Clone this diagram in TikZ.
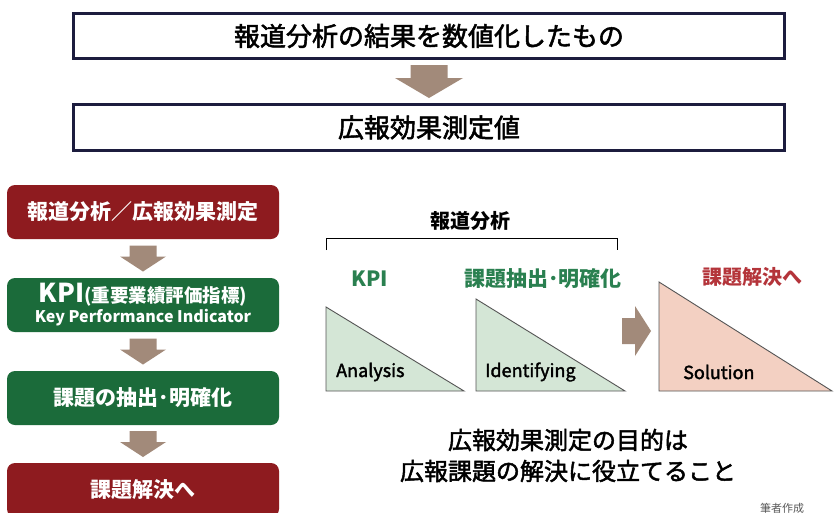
\documentclass[tikz,border=0pt]{standalone}
\usepackage{fontspec}
\setmainfont{Noto Sans CJK JP}
\newfontfamily\jpsemi[FakeBold=2]{Noto Sans CJK JP}
\usetikzlibrary{calc}
\definecolor{navyb}{HTML}{1C1C3E}
\definecolor{boxred}{HTML}{8E1B1F}
\definecolor{boxgreen}{HTML}{1B6B3A}
\definecolor{arrowc}{HTML}{A28A7A}
\definecolor{trigreen}{HTML}{D4E6D6}
\definecolor{tripink}{HTML}{F3D0C2}
\definecolor{txtgreen}{HTML}{2A8050}
\definecolor{txtred}{HTML}{B4343A}
\definecolor{trline}{HTML}{555555}
\tikzset{
  topbox/.style={draw=navyb, line width=3pt, minimum width=711pt, inner sep=0pt,
    font=\jpsemi\fontsize{26}{28}\selectfont},
  colbox/.style={rounded corners=8pt, minimum width=272pt, minimum height=54pt,
    inner sep=0pt, text=white, align=center, font=\bfseries\fontsize{20}{22}\selectfont},
  redbox/.style={colbox, fill=boxred},
  greenbox/.style={colbox, fill=boxgreen},
  trishape/.style={draw=trline, line width=0.9pt},
  trilabel/.style={anchor=west, inner sep=0pt, font=\jpsemi\fontsize{18}{20}\selectfont},
  headlabel/.style={inner sep=0pt, font=\bfseries\fontsize{20}{22}\selectfont},
  bottomtext/.style={inner sep=0pt, font=\jpsemi\fontsize{24}{26}\selectfont},
}
\begin{document}
\begin{tikzpicture}[x=1pt,y=-1pt]
\clip (0,0) rectangle (834,512);
\fill[white] (0,0) rectangle (834,512);

% top boxes
\node[topbox, minimum height=45pt] (t1) at (429,36) {報道分析の結果を数値化したもの};
\node[topbox, minimum height=46pt] (t2) at (429,127.5) {広報効果測定値};
% top block arrow
\coordinate (ma) at ($(t1.south)!0.5!(t2.north)$);
\fill[arrowc] (ma) ++(-18.5,-16.5) -- ++(37,0) -- ++(0,13) -- ++(15.5,0)
  -- ++(-34,20) -- ++(-34,-20) -- ++(15.5,0) -- cycle;

% left column
\node[redbox, font=\bfseries\fontsize{21}{22}\selectfont] (l1) at (143,212) {報道分析／広報効果測定};
\node[greenbox] (l2) at (143,305) {{\fontsize{26}{26}\selectfont KPI}{\fontsize{18.5}{19}\selectfont (重要業績評価指標)}\\[-2pt]
  {\fontsize{16}{16}\selectfont Key Performance Indicator}};
\node[greenbox, font=\bfseries\fontsize{21}{22}\selectfont] (l3) at (143,398) {課題の抽出･明確化};
\node[redbox, font=\bfseries\fontsize{21}{22}\selectfont] (l4) at (143,490) {課題解決へ};

\foreach \a/\b/\n in {l1/l2/1, l2/l3/2, l3/l4/3}{
  \coordinate (m\n) at ($(\a.south)!0.5!(\b.north)$);
  \fill[arrowc] (m\n) ++(-13.5,-13) -- ++(27,0) -- ++(0,11) -- ++(9.5,0)
    -- ++(-23,15) -- ++(-23,-15) -- ++(9.5,0) -- cycle;
}

% right part
\node[headlabel] (ha) at (470,221) {報道分析};
\coordinate (bl) at (326,250);
\coordinate (br) at (617,250);
\draw[line width=1pt] (bl) -- (bl|-0,238) -- (br|-0,238) -- (br);

\node[headlabel, text=txtgreen, font=\bfseries\fontsize{21}{22}\selectfont] (k1) at (370,279) {KPI};
\node[headlabel, text=txtgreen, font=\bfseries\fontsize{21}{22}\selectfont] (k2) at (543,279) {課題抽出･明確化};
\node[headlabel, text=txtred] (k3) at (752,277) {課題解決へ};

\filldraw[trishape, fill=trigreen] (326,307) -- (326,391) -- (464,391) -- cycle;
\filldraw[trishape, fill=trigreen] (476,299) -- (476,391) -- (625,391) -- cycle;
\filldraw[trishape, fill=tripink] (659,282) -- (659,391) -- (832,391) -- cycle;

\node[trilabel] (a1) at (336,372) {Analysis};
\node[trilabel] (a2) at (485,372) {Identifying};
\node[trilabel] (a3) at (683,372) {Solution};

% right block arrow
\coordinate (ra) at (637,331);
\fill[arrowc] (ra) ++(-15,-13) -- ++(13,0) -- ++(0,-12) -- ++(16,25)
  -- ++(-16,25) -- ++(0,-12) -- ++(-13,0) -- cycle;

% bottom text
\node[bottomtext] (b1) at (568,440) {広報効果測定の目的は};
\node[bottomtext] (b2) at (568,471) {広報課題の解決に役立てること};
\node[inner sep=0pt, text=black!65, font=\fontsize{11}{12}\selectfont] (src) at (782,508) {筆者作成};
\end{tikzpicture}
\end{document}
